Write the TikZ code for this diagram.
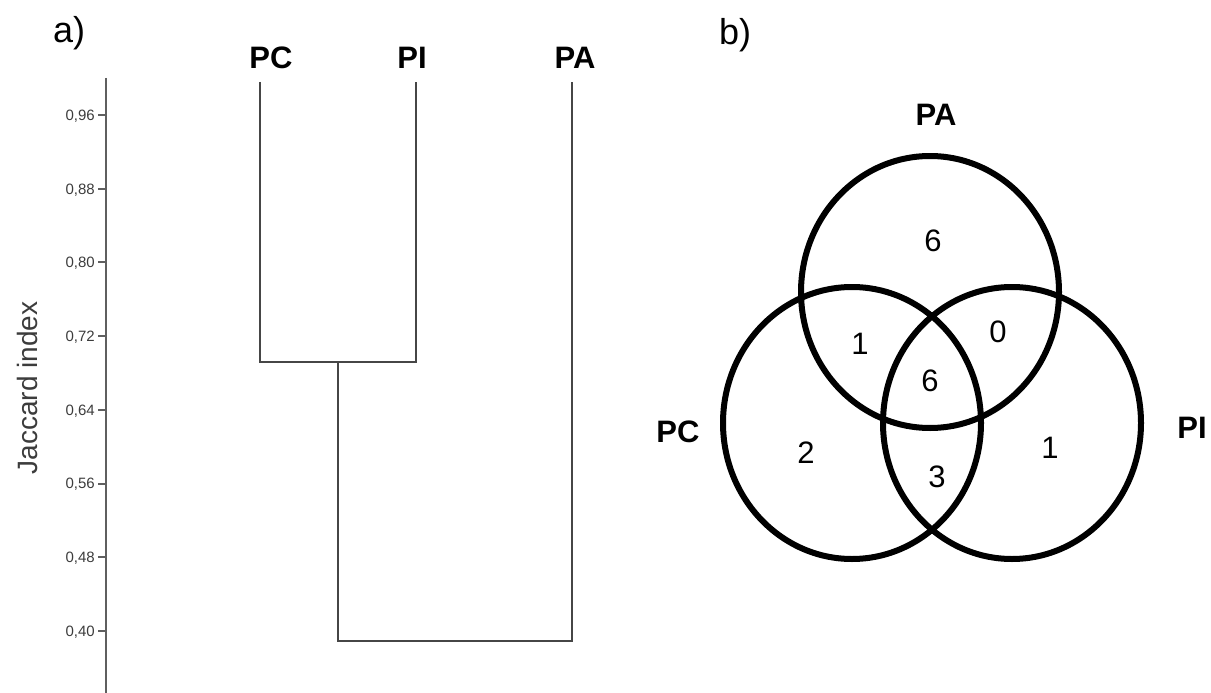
\documentclass[tikz,border=0pt]{standalone}
\usepackage{fontspec}
\setmainfont{Liberation Sans}
\definecolor{dgray}{RGB}{70,70,70}
\definecolor{agray}{RGB}{95,95,95}
\definecolor{tgray}{RGB}{60,60,60}
\begin{document}
\begin{tikzpicture}[x=1pt,y=-1pt,
  dline/.style={draw=dgray, line width=1.6pt},
  axline/.style={draw=agray, line width=2pt},
  ticklab/.style={anchor=base east, inner sep=0pt, text=tgray, font=\fontsize{15}{15}\selectfont},
  taxon/.style={inner sep=0pt, font=\bfseries\fontsize{31}{31}\selectfont},
  count/.style={inner sep=0pt, font=\fontsize{31}{31}\selectfont},
  panel/.style={anchor=base west, inner sep=0pt, font=\fontsize{36}{36}\selectfont},
  venn/.style={draw=black, line width=6pt}]
\useasboundingbox (0,0) rectangle (1211,693);
% panel labels
\node[panel] (pa) at (53,43) {a)};
\node[panel] (pb) at (719,45) {b)};
% axis
\coordinate (axtop) at (106,78);
\coordinate (axbot) at (106,693);
\draw[axline] (axtop) -- (axbot);
\foreach \lab/\y [count=\i] in {{0,96}/115,{0,88}/188.7,{0,80}/262.4,{0,72}/336.1,{0,64}/409.8,{0,56}/483.5,{0,48}/557.2,{0,40}/631}{
  \coordinate (t\i) at (106,\y);
  \coordinate (ts\i) at (98,\y);
  \draw[axline] (ts\i) -- (t\i);
  \node[ticklab] (tl\i) at (95,\y+5.3) {\lab};
}
\node[rotate=90, anchor=base, inner sep=0pt, text=tgray, font=\fontsize{28}{28}\selectfont] (ylab) at (37,388) {Jaccard index};
% dendrogram
\node[taxon] (dPC) at (271,57.5) {PC};
\node[taxon] (dPI) at (412,57.5) {PI};
\node[taxon] (dPA) at (575,57.5) {PA};
\coordinate (lPC) at (260,82);
\coordinate (lPI) at (416,82);
\coordinate (lPA) at (572,82);
\coordinate (jPC) at (260,362);
\coordinate (jPI) at (416,362);
\coordinate (jCI) at (338,362);
\coordinate (rCI) at (338,641);
\coordinate (rPA) at (572,641);
\draw[dline, line join=miter] (lPC) -- (jPC) -- (jPI) -- (lPI);
\draw[dline, line join=miter] (jCI) -- (rCI) -- (rPA) -- (lPA);
% Venn
\coordinate (cPA) at (930,292);
\coordinate (cPC) at (852,423);
\coordinate (cPI) at (1012,423);
\draw[venn] (cPA) ellipse [x radius=129pt, y radius=136pt];
\draw[venn] (cPC) ellipse [x radius=129pt, y radius=136pt];
\draw[venn] (cPI) ellipse [x radius=129pt, y radius=136pt];
\node[taxon] (vPA) at (936,115) {PA};
\node[taxon] (vPC) at (678,432) {PC};
\node[taxon] (vPI) at (1192,428) {PI};
\node[count] (nA) at (933,241) {6};
\node[count] (nAC) at (860,344) {1};
\node[count] (nAI) at (998,332) {0};
\node[count] (nAll) at (930,381) {6};
\node[count] (nC) at (806,453) {2};
\node[count] (nCI) at (937,477) {3};
\node[count] (nI) at (1050,448) {1};
\end{tikzpicture}
\end{document}
